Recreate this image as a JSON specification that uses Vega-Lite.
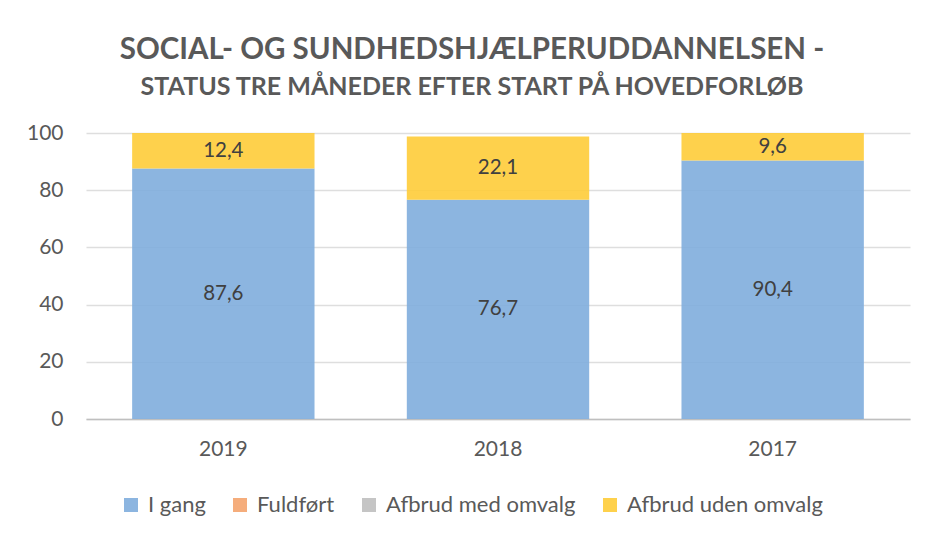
{
  "$schema": "https://vega.github.io/schema/vega-lite/v6.json",
  "autosize": {"type": "none"},
  "width": 824,
  "height": 286,
  "padding": {"left": 86, "top": 133, "right": 15, "bottom": 118},
  "background": "white",
  "config": {
    "view": {"stroke": null},
    "font": "Lato",
    "locale": {"number": {"decimal": ",", "thousands": ".", "grouping": [3], "currency": ["", " kr."]}}
  },
  "title": {
    "text": "SOCIAL- OG SUNDHEDSHJÆLPERUDDANNELSEN -",
    "subtitle": "STATUS TRE MÅNEDER EFTER START PÅ HOVEDFORLØB",
    "anchor": "middle",
    "dx": -26,
    "font": "Lato",
    "fontSize": 29.5,
    "fontWeight": "bold",
    "color": "#595959",
    "subtitleFont": "Lato",
    "subtitleFontSize": 25,
    "subtitleFontWeight": "bold",
    "subtitleColor": "#595959",
    "subtitlePadding": 10,
    "offset": 21
  },
  "data": {
    "values": [
      {"year": "2019", "status": "I gang", "value": 87.6},
      {"year": "2019", "status": "Afbrud uden omvalg", "value": 12.4},
      {"year": "2018", "status": "I gang", "value": 76.7},
      {"year": "2018", "status": "Afbrud uden omvalg", "value": 22.1},
      {"year": "2017", "status": "I gang", "value": 90.4},
      {"year": "2017", "status": "Afbrud uden omvalg", "value": 9.6}
    ]
  },
  "encoding": {
    "x": {
      "field": "year",
      "type": "nominal",
      "sort": ["2019", "2018", "2017"],
      "scale": {"paddingInner": 0.336, "paddingOuter": 0.168},
      "axis": {
        "title": null,
        "labelAngle": 0,
        "labelFontSize": 21,
        "labelColor": "#595959",
        "labelPadding": 19,
        "ticks": false,
        "domainColor": "#BFBFBF",
        "domainWidth": 1.5
      }
    }
  },
  "layer": [
    {
      "mark": {"type": "bar", "opacity": 0.9},
      "encoding": {
        "y": {
          "field": "value",
          "type": "quantitative",
          "stack": "zero",
          "scale": {"domain": [0, 100]},
          "axis": {
            "title": null,
            "values": [0, 20, 40, 60, 80, 100],
            "labelFontSize": 21,
            "labelColor": "#595959",
            "labelPadding": 23,
            "ticks": false,
            "domain": false,
            "gridColor": "#DEDEDE",
            "gridWidth": 1.5
          }
        },
        "color": {
          "field": "status",
          "type": "nominal",
          "scale": {
            "domain": ["I gang", "Fuldført", "Afbrud med omvalg", "Afbrud uden omvalg"],
            "range": ["#80ADDD", "#F4A46E", "#BFBFBF", "#FECC39"]
          },
          "legend": {
            "title": null,
            "orient": "none",
            "direction": "horizontal",
            "legendX": 34,
            "legendY": 361,
            "symbolType": "square",
            "symbolSize": 196,
            "symbolStrokeWidth": 0,
            "symbolOpacity": 0.9,
            "labelFontSize": 22,
            "labelColor": "#595959",
            "labelOffset": 6,
            "labelLimit": 0,
            "columnPadding": 23
          }
        },
        "order": {"field": "status", "sort": "descending"}
      }
    },
    {
      "transform": [
        {"stack": "value", "groupby": ["year"], "sort": [{"field": "status", "order": "descending"}], "as": ["y0", "y1"]},
        {"calculate": "(datum.y0 + datum.y1) / 2", "as": "mid"}
      ],
      "mark": {"type": "text", "fontSize": 20.5, "color": "#404040", "baseline": "middle"},
      "encoding": {
        "y": {"field": "mid", "type": "quantitative"},
        "text": {"field": "value", "type": "quantitative", "format": ".1f"}
      }
    }
  ]
}
